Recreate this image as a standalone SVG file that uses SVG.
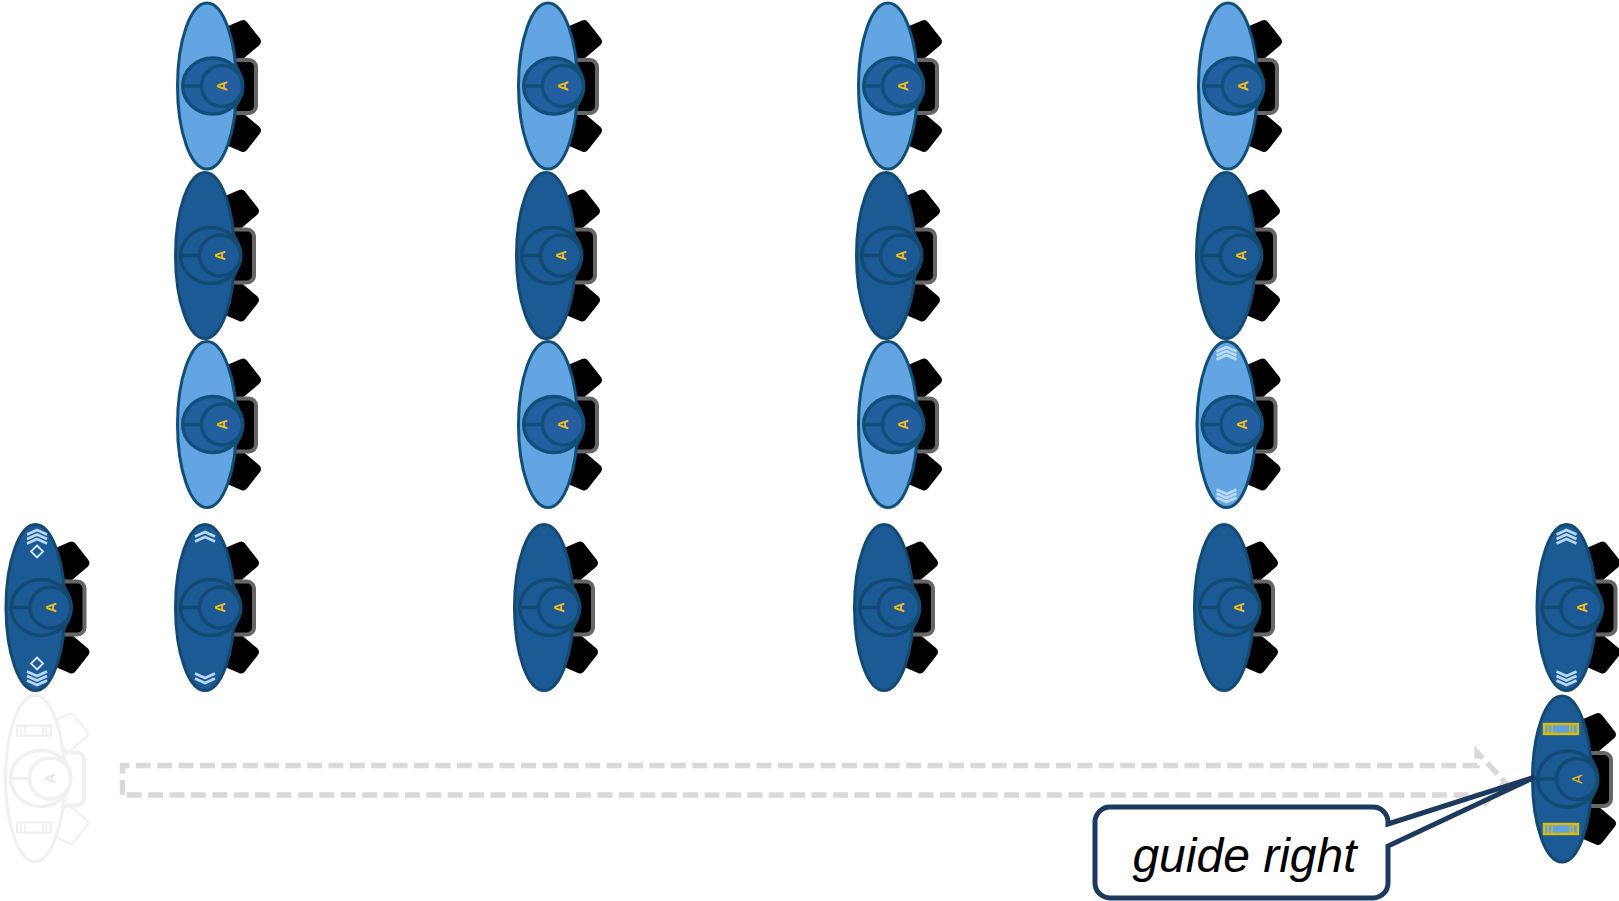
<svg xmlns="http://www.w3.org/2000/svg" width="1619" height="901" viewBox="0 0 1619 901">
<style>
.dark{--body:#1c5a96;--head:#1c5a96;--st:#134a72;--sh:#000;--shs:#000;--pk:#666;--pf:#000;--arc:#17496f;--tx:#f5bd10}
.light{--body:#62a5e2;--head:#235f9e;--st:#0f4f78;--sh:#000;--shs:#000;--pk:#666;--pf:#000;--arc:#17496f;--tx:#f5bd10}
.ghost{--body:#fff;--head:#fff;--st:#f0f0f0;--sh:#fff;--shs:#f0f0f0;--pk:#f0f0f0;--pf:#fff;--arc:#f0f0f0;--tx:#e8e8e8}
.sho{fill:var(--shs);stroke:var(--shs);stroke-width:10;stroke-linejoin:round}
.shi{fill:var(--sh);stroke:var(--sh);stroke-width:5.5;stroke-linejoin:round}
.pk{fill:var(--pf);stroke:var(--pk);stroke-width:4}
.arc{fill:none;stroke:var(--arc);stroke-width:1.5}
.bd{fill:var(--body);stroke:var(--st);stroke-width:3}
.hd{fill:var(--head);stroke:var(--st);stroke-width:3.5}
.a{font-family:"Liberation Sans",Arial,sans-serif;font-weight:700;font-size:14px;fill:var(--tx);text-anchor:middle}
.chev{fill:none;stroke:#bcd9f2;stroke-width:2.6}
.dia{fill:none;stroke:#d8e9f7;stroke-width:1.8}
.yr{fill:#5ea2e0;stroke:#dcbc00;stroke-width:2.4}
.yb{fill:none;stroke:#dcbc00;stroke-width:1.3}
.gr{fill:#fff;stroke:#eeeeee;stroke-width:2}
.gb{fill:none;stroke:#eeeeee;stroke-width:1.5}
.arrow{fill:none;stroke:#d9d9d9;stroke-width:5.3;stroke-dasharray:15 6.4}
.box{fill:#fff;stroke:#1b3a5e;stroke-width:5;stroke-linejoin:miter}
.lbl{font-family:"Liberation Sans",Arial,sans-serif;font-style:italic;font-size:48px;fill:#000;text-anchor:middle}
</style>
<defs>
<g id="fig">
<polygon id="s1" class="sho" points="36,-61 49,-44.5 33,-31 22,-55"/>
<polygon class="sho" points="36,61 49,44.5 33,31 22,55"/>
<polygon class="shi" points="36,-61 49,-44.5 33,-31 22,-55"/>
<polygon class="shi" points="36,61 49,44.5 33,31 22,55"/>
<rect class="pk" x="15" y="-26" width="34" height="53" rx="7"/>
<path class="arc" d="M28,-23Q44,0 28,23"/>
<ellipse class="bd" cx="0" cy="0" rx="29.5" ry="83"/>
<ellipse class="hd" cx="5.7" cy="0" rx="30" ry="28"/>
<circle class="hd" cx="15" cy="0" r="20.5"/>
<path class="hd" d="M-24,0H-5"/>
</g>
<path id="c" class="chev" d="M-10,3L0,-1.5L10,3"/>
<path id="d" class="dia" d="M0,-6L6,0L0,6L-6,0Z"/>
<g id="yrect"><rect class="yr" x="-18" y="-5" width="34" height="10"/><path class="yb" d="M-14,-5V5M-10,-5V5M8,-5V5M11,-5V5"/></g>
<g id="grect"><rect class="gr" x="-18" y="-5" width="34" height="10"/><path class="gb" d="M-14,-5V5M-10,-5V5M8,-5V5M11,-5V5"/></g>
</defs>
<rect width="1619" height="901" fill="#fff"/>
<g id="n1" class="light" transform="translate(207 86)"><use href="#fig"/><text class="a" transform="translate(15 0) rotate(-90)" y="5">A</text></g>
<g id="n2" class="light" transform="translate(548 86)"><use href="#fig"/><text class="a" transform="translate(15 0) rotate(-90)" y="5">A</text></g>
<g id="n3" class="light" transform="translate(888 86)"><use href="#fig"/><text class="a" transform="translate(15 0) rotate(-90)" y="5">A</text></g>
<g id="n4" class="light" transform="translate(1228 86)"><use href="#fig"/><text class="a" transform="translate(15 0) rotate(-90)" y="5">A</text></g>
<g id="n5" class="dark" transform="translate(205 255.5)"><use href="#fig"/><text class="a" transform="translate(15 0) rotate(-90)" y="5">A</text></g>
<g id="n6" class="dark" transform="translate(546 255.5)"><use href="#fig"/><text class="a" transform="translate(15 0) rotate(-90)" y="5">A</text></g>
<g id="n7" class="dark" transform="translate(886 255.5)"><use href="#fig"/><text class="a" transform="translate(15 0) rotate(-90)" y="5">A</text></g>
<g id="n8" class="dark" transform="translate(1226 255.5)"><use href="#fig"/><text class="a" transform="translate(15 0) rotate(-90)" y="5">A</text></g>
<g id="n9" class="light" transform="translate(207 424.5)"><use href="#fig"/><text class="a" transform="translate(15 0) rotate(-90)" y="5">A</text></g>
<g id="n10" class="light" transform="translate(548 424.5)"><use href="#fig"/><text class="a" transform="translate(15 0) rotate(-90)" y="5">A</text></g>
<g id="n11" class="light" transform="translate(888 424.5)"><use href="#fig"/><text class="a" transform="translate(15 0) rotate(-90)" y="5">A</text></g>
<g id="n12" class="light" transform="translate(1226.5 424.5)"><use href="#fig"/><text class="a" transform="translate(15 0) rotate(-90)" y="5">A</text>
<use href="#c" y="-76"/><use href="#c" y="-72"/><use href="#c" y="-68"/>
<g transform="scale(1 -1)"><use href="#c" y="-76"/><use href="#c" y="-72"/><use href="#c" y="-68"/></g></g>
<g id="n13" class="dark" transform="translate(35.5 607.5)"><use href="#fig"/><text class="a" transform="translate(15 0) rotate(-90)" y="5">A</text>
<g transform="translate(1.5 0)"><use href="#c" y="-76"/><use href="#c" y="-71.5"/><use href="#c" y="-67"/><use href="#d" y="-56"/>
<g transform="scale(1 -1)"><use href="#c" y="-76"/><use href="#c" y="-71.5"/><use href="#c" y="-67"/><use href="#d" y="-56"/></g></g></g>
<g id="n14" class="dark" transform="translate(205 607.5)"><use href="#fig"/><text class="a" transform="translate(15 0) rotate(-90)" y="5">A</text>
<use href="#c" y="-74"/><use href="#c" y="-69"/>
<g transform="scale(1 -1)"><use href="#c" y="-74"/><use href="#c" y="-69"/></g></g>
<g id="n15" class="dark" transform="translate(544 607.5)"><use href="#fig"/><text class="a" transform="translate(15 0) rotate(-90)" y="5">A</text></g>
<g id="n16" class="dark" transform="translate(884 607.5)"><use href="#fig"/><text class="a" transform="translate(15 0) rotate(-90)" y="5">A</text></g>
<g id="n17" class="dark" transform="translate(1224 607.5)"><use href="#fig"/><text class="a" transform="translate(15 0) rotate(-90)" y="5">A</text></g>
<g id="n18" class="dark" transform="translate(1566.5 607.5)"><use href="#fig"/><text class="a" transform="translate(15 0) rotate(-90)" y="5">A</text>
<use href="#c" y="-76"/><use href="#c" y="-71.5"/><use href="#c" y="-67"/>
<g transform="scale(1 -1)"><use href="#c" y="-76"/><use href="#c" y="-71.5"/><use href="#c" y="-67"/></g></g>
<g id="n19" class="ghost" transform="translate(35 778.5)"><use href="#fig"/><text class="a" transform="translate(15 0) rotate(-90)" y="5">A</text>
<use href="#grect" y="-48"/><use href="#grect" y="49"/></g>
<g id="connectors">
<path id="move-arrow" class="arrow" d="M122.5,795V765.5H1477V752L1505,782L1482,807V795H122.5"/>
</g>
<g id="n20" class="dark" transform="translate(1562 779)"><use href="#fig"/><text class="a" transform="translate(15 0) rotate(-90)" y="5" style="font-weight:400">A</text>
<use href="#yrect" y="-50"/><use href="#yrect" y="50"/></g>
<g id="callout">
<path class="box" d="M1110,807H1373a15,15 0 0 1 15,15V824L1535,777L1388,846V883a15,15 0 0 1 -15,15H1110a15,15 0 0 1 -15,-15V822a15,15 0 0 1 15,-15Z"/>
<text class="lbl" x="1244.5" y="872">guide right</text>
</g>
</svg>
